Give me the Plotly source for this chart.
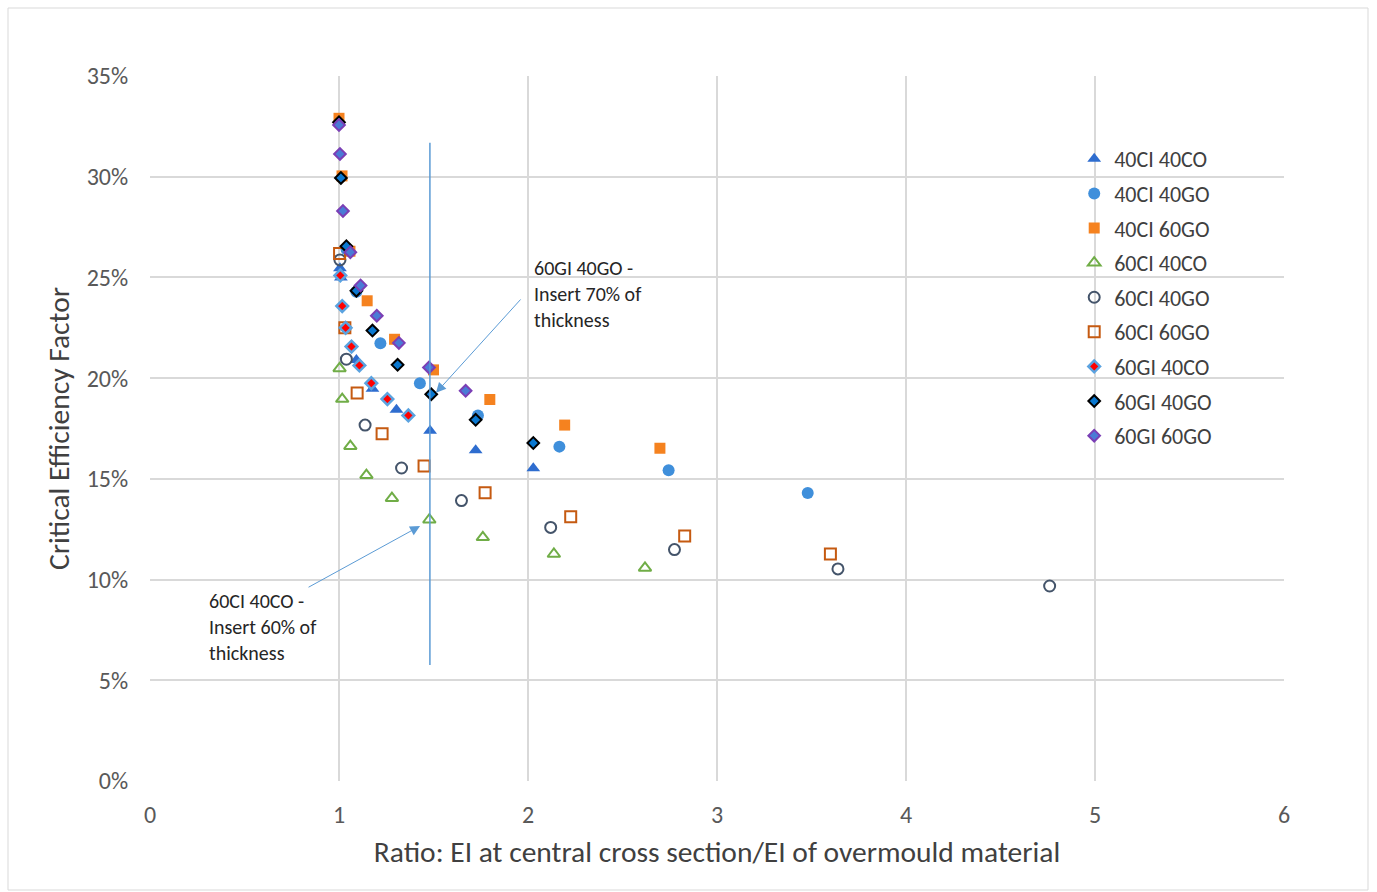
import plotly.graph_objects as go

# ---- data (x = EI ratio, y = critical efficiency factor in %) ----
names = ["40CI 40CO", "40CI 40GO", "40CI 60GO", "60CI 40CO", "60CI 40GO",
         "60CI 60GO", "60GI 40CO", "60GI 40GO", "60GI 60GO"]

x_40ci_40co = [1.005, 1.01, 1.092, 1.177, 1.304, 1.482, 1.723, 2.028]
y_40ci_40co = [25.45, 25.0, 20.9, 19.47, 18.43, 17.39, 16.42, 15.53]

x_40ci_40go = [1.04, 1.092, 1.219, 1.428, 1.735, 2.166, 2.744, 3.48]
y_40ci_40go = [26.4, 24.29, 21.73, 19.75, 18.15, 16.6, 15.43, 14.3]

x_40ci_60go = [1.0, 1.016, 1.058, 1.149, 1.294, 1.50, 1.798, 2.194, 2.698]
y_40ci_60go = [32.9, 30.04, 26.3, 23.84, 21.93, 20.41, 18.94, 17.67, 16.52]

x_60ci_40co = [1.003, 1.017, 1.06, 1.145, 1.28, 1.478, 1.761, 2.137, 2.619]
y_60ci_40co = [20.48, 18.96, 16.62, 15.18, 14.04, 12.97, 12.1, 11.27, 10.58]

x_60ci_40go = [1.005, 1.039, 1.138, 1.331, 1.648, 2.12, 2.775, 3.64, 4.76]
y_60ci_40go = [25.87, 20.94, 17.67, 15.54, 13.92, 12.59, 11.49, 10.53, 9.68]

x_60ci_60go = [1.003, 1.031, 1.096, 1.228, 1.45, 1.773, 2.226, 2.829, 3.60]
y_60ci_60go = [26.19, 22.5, 19.26, 17.24, 15.64, 14.31, 13.12, 12.16, 11.27]

x_60gi_40co = [1.007, 1.017, 1.035, 1.066, 1.108, 1.171, 1.256, 1.367]
y_60gi_40co = [25.1, 23.58, 22.5, 21.57, 20.63, 19.75, 18.96, 18.15]

x_60gi_40go = [1.0, 1.01, 1.039, 1.092, 1.177, 1.31, 1.488, 1.723, 2.028]
y_60gi_40go = [32.7, 29.94, 26.55, 24.34, 22.36, 20.66, 19.2, 17.93, 16.78]

x_60gi_60go = [1.0, 1.005, 1.021, 1.06, 1.114, 1.20, 1.317, 1.476, 1.67]
y_60gi_60go = [32.57, 31.13, 28.3, 26.25, 24.6, 23.1, 21.75, 20.53, 19.37]

xs = [x_40ci_40co, x_40ci_40go, x_40ci_60go, x_60ci_40co, x_60ci_40go,
      x_60ci_60go, x_60gi_40co, x_60gi_40go, x_60gi_60go]
ys = [y_40ci_40co, y_40ci_40go, y_40ci_60go, y_60ci_40co, y_60ci_40go,
      y_60ci_60go, y_60gi_40co, y_60gi_40go, y_60gi_60go]

x_ticks = [0, 1, 2, 3, 4, 5, 6]
y_ticks = [0, 5, 10, 15, 20, 25, 30, 35]
y_ticktext = ["0%", "5%", "10%", "15%", "20%", "25%", "30%", "35%"]

# reference line
vline_x = 1.481
vline_y = [5.76, 31.68]

styles = [
    dict(symbol="triangle-up", size=12, color="#2E6DCF", line=dict(width=0)),
    dict(symbol="circle", size=12, color="#3F8FDB", line=dict(width=0)),
    dict(symbol="square", size=11, color="#F5821F", line=dict(width=0)),
    dict(symbol="triangle-up-open", size=11, color="#70AD47", line=dict(width=2, color="#70AD47")),
    dict(symbol="circle-open", size=11, color="#44546A", line=dict(width=2, color="#44546A")),
    dict(symbol="square-open", size=11, color="#C55A11", line=dict(width=2, color="#C55A11")),
    dict(symbol="diamond", size=9, color="#FF0000", line=dict(width=2.5, color="#5BA3E0")),
    dict(symbol="diamond", size=9, color="#0A78D0", line=dict(width=2, color="#000000")),
    dict(symbol="diamond", size=9, color="#4A7BD6", line=dict(width=2, color="#7B3FB5")),
]

FONT = "Carlito, Lato, Calibri, sans-serif"

fig = go.Figure()
for n, xv, yv, st in zip(names, xs, ys, styles):
    fig.add_trace(go.Scatter(x=xv, y=yv, mode="markers", name=n, marker=st,
                             legendgroup=n))

fig.add_trace(go.Scatter(x=[vline_x, vline_x], y=vline_y, mode="lines",
                         line=dict(color="#5B9BD5", width=1.5),
                         showlegend=False, hoverinfo="skip"))

arrow_col = "#5B9BD5"
fig.add_annotation(x=1.513, y=19.27, ax=1.968, ay=23.98, axref="x", ayref="y",
                   xref="x", yref="y", text="", showarrow=True, arrowhead=2,
                   arrowsize=2, arrowwidth=1, arrowcolor=arrow_col)
fig.add_annotation(x=1.429, y=12.66, ax=0.831, ay=9.58, axref="x", ayref="y",
                   xref="x", yref="y", text="", showarrow=True, arrowhead=2,
                   arrowsize=2, arrowwidth=1, arrowcolor=arrow_col)
fig.add_annotation(x=2.02, y=26.15, xref="x", yref="y", xanchor="left", yanchor="top",
                   text="60GI 40GO -<br>Insert 70% of<br>thickness", showarrow=False,
                   align="left", font=dict(family=FONT, size=20, color="#262626"))
fig.add_annotation(x=0.3, y=9.65, xref="x", yref="y", xanchor="left", yanchor="top",
                   text="60CI 40CO -<br>Insert 60% of<br>thickness", showarrow=False,
                   align="left", font=dict(family=FONT, size=20, color="#262626"))

# outer chart border
fig.add_shape(type="rect", xref="paper", yref="paper",
              x0=-142/1134, x1=1+84/1134, y0=-109/705, y1=1+68/705,
              line=dict(color="#D9D9D9", width=1), fillcolor="rgba(0,0,0,0)", layer="below")

grid = "#D9D9D9"
fig.update_layout(
    width=1377, height=892,
    margin=dict(l=150, r=93, t=76, b=111),
    paper_bgcolor="white", plot_bgcolor="white",
    font=dict(family=FONT, color="#595959"),
    showlegend=True,
    legend=dict(x=0.815, y=0.912, xanchor="left", yanchor="top",
                bgcolor="rgba(0,0,0,0)", font=dict(size=22, color="#404040", family=FONT),
                tracegroupgap=3, itemsizing="trace"),
    xaxis=dict(range=[0, 6], tickvals=x_ticks, showgrid=True, gridcolor=grid, gridwidth=2,
               zeroline=False, showline=False, ticks="outside", ticklen=12,
               tickcolor="rgba(0,0,0,0)", tickfont=dict(size=24, color="#595959"),
               title=dict(text="Ratio: EI at central cross section/EI of overmould material",
                          font=dict(size=29.5, color="#404040"), standoff=13)),
    yaxis=dict(range=[0, 35], tickvals=y_ticks, ticktext=y_ticktext, showgrid=True,
               gridcolor=grid, gridwidth=2, zeroline=False, showline=False,
               ticks="outside", ticklen=16, tickcolor="rgba(0,0,0,0)",
               tickfont=dict(size=24, color="#595959"),
               title=dict(text="Critical Efficiency Factor",
                          font=dict(size=29.5, color="#404040"), standoff=8)),
)

fig.write_html("out.html")
